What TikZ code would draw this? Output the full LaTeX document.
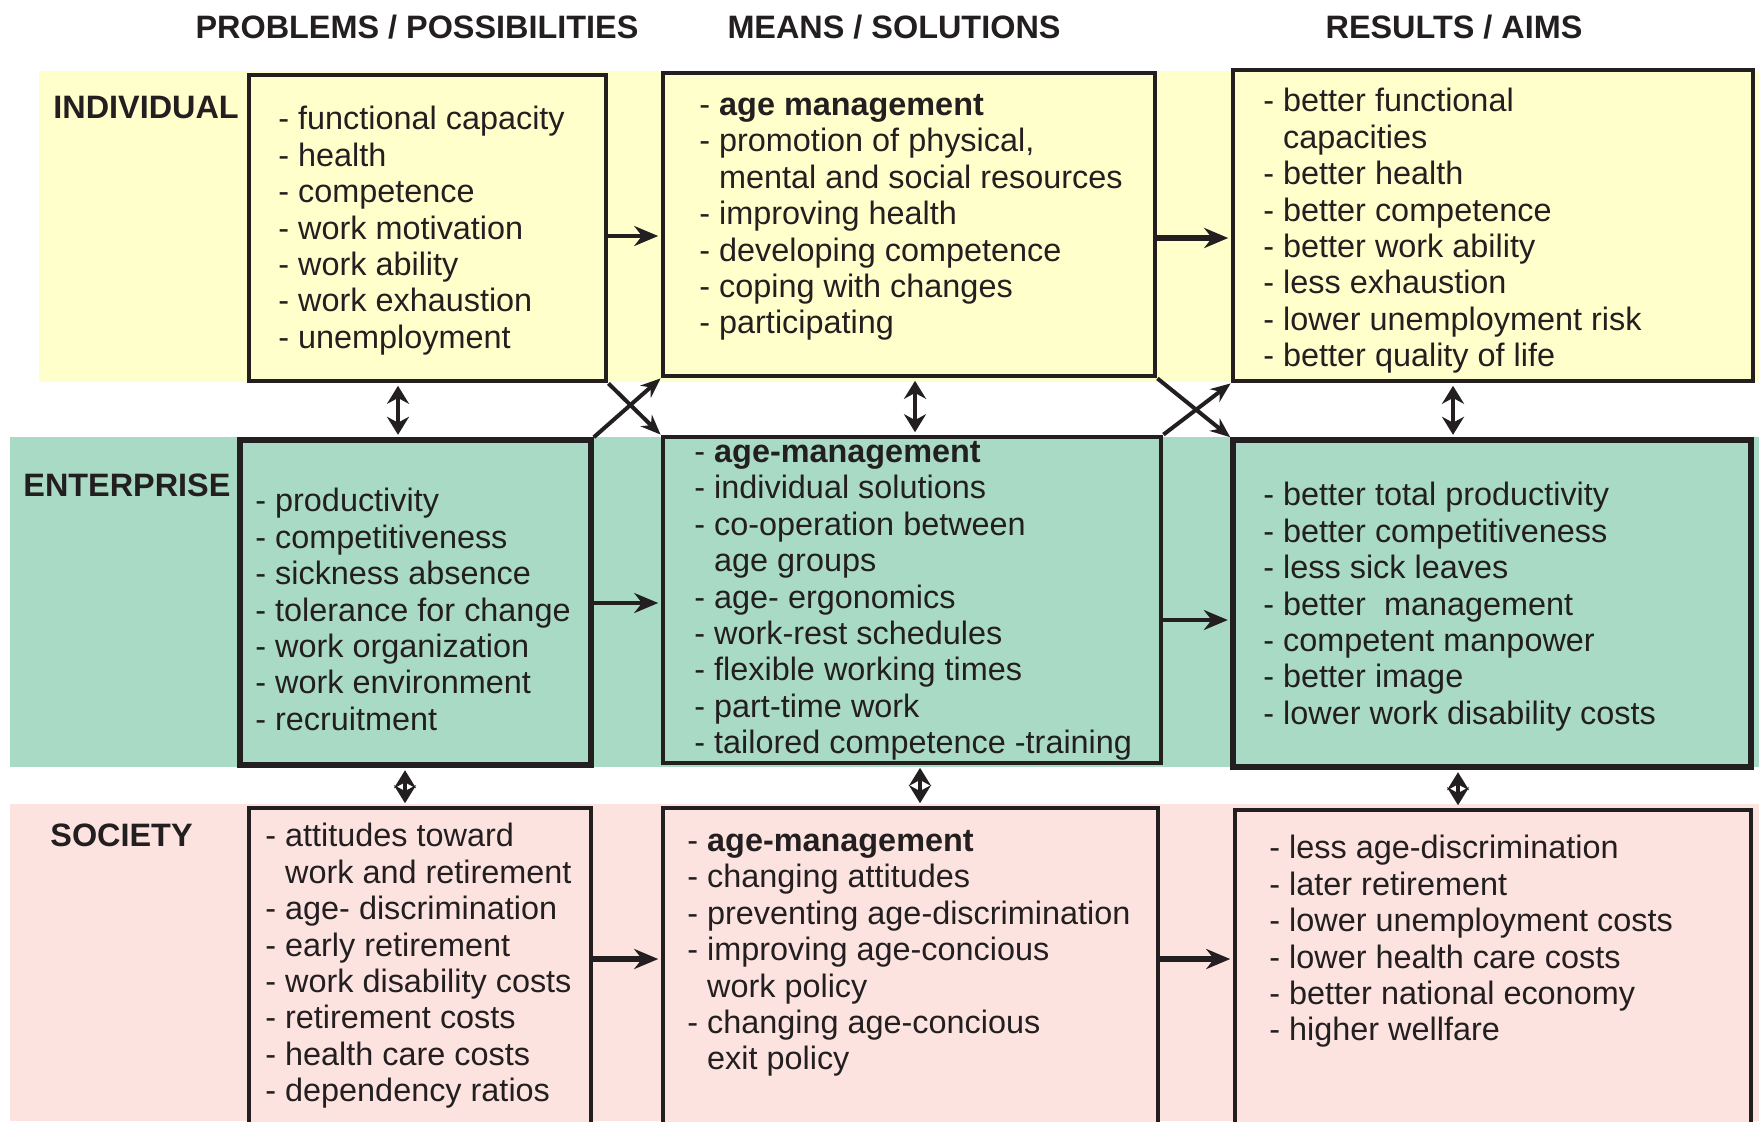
\documentclass[tikz,border=0pt]{standalone}
\usepackage{fontspec}
\setmainfont{Liberation Sans}
\usetikzlibrary{fit,arrows.meta}

\definecolor{indiv}{HTML}{FFFFCC}
\definecolor{enter}{HTML}{A9DAC6}
\definecolor{socie}{HTML}{FCE3DF}
\definecolor{ink}{HTML}{231F20}

\newcommand\more{\phantom{- }}

\tikzset{
  box/.style={draw=ink, line width=2.4pt, inner sep=0pt},
  items/.style={anchor=north west, align=left, inner sep=0pt, text=ink,
    font=\fontsize{16.2}{18.2}\selectfont},
  head/.style={text=ink, inner sep=0pt, font=\fontsize{16.2}{18.2}\selectfont\bfseries},
  rowname/.style={head, anchor=west},
  flow/.style={draw=ink, line width=1.7pt, shorten >=1.2pt,
    -{Stealth[length=12pt,width=10pt]}},
  bigflow/.style={flow, line width=3pt},
  link/.style={draw=ink, line width=2.2pt, shorten >=1.2pt, shorten <=1.2pt,
    {Stealth[length=9pt,width=11pt]}-{Stealth[length=9pt,width=11pt]}},
  cross/.style={draw=ink, line width=2pt, -{Stealth[length=10pt,width=8pt]}},
}

\begin{document}
\begin{tikzpicture}[x=0.5pt, y=-0.5pt]
\useasboundingbox (0,0) rectangle (1759,1121);
\clip (0,0) rectangle (1759,1121);

% row bands
\fill[indiv] (39,71) rectangle (1759,382);
\fill[enter] (10,437) rectangle (1759,767);
\fill[socie] (10,804) rectangle (1759,1121);

% column heads
\node[head] (hprob) at (417,27) {PROBLEMS / POSSIBILITIES};
\node[head] (hmean) at (894,27) {MEANS / SOLUTIONS};
\node[head] (hres)  at (1454,27) {RESULTS / AIMS};

% row names
\node[rowname] (lind) at (53,108) {INDIVIDUAL};
\node[rowname] (lent) at (23,485) {ENTERPRISE};
\node[rowname] (lsoc) at (50,835) {SOCIETY};

% individual
\node[box, fill=indiv, fit={(249,75) (606,381)}] (a1) {};
\node[box, fill=indiv, fit={(663,73) (1155,376)}] (b1) {};
\node[box, fill=indiv, fit={(1233,70) (1753,381)}] (c1) {};

\node[items] (a1t) at (278,106) {- functional capacity\\- health\\- competence\\- work motivation\\- work ability\\- work exhaustion\\- unemployment};
\node[items] (b1t) at (699,94) {- \textbf{age management}\\- promotion of physical,\\\more mental and social resources\\- improving health\\- developing competence\\- coping with changes\\- participating};
\node[items] (c1t) at (1263,88) {- better functional\\\more capacities\\- better health\\- better competence\\- better work ability\\- less exhaustion\\- lower unemployment risk\\- better quality of life};

% enterprise
\node[box, fill=enter, line width=2.8pt, fit={(240,440) (591,765)}] (a2) {};
\node[box, fill=enter, fit={(663,437) (1161,763)}] (b2) {};
\node[box, fill=enter, line width=2.8pt, fit={(1233,440) (1751,767)}] (c2) {};

\node[items] (a2t) at (255,488) {- productivity\\- competitiveness\\- sickness absence\\- tolerance for change\\- work organization\\- work environment\\- recruitment};
\node[items] (b2t) at (694,441) {- \textbf{age-management}\\- individual solutions\\- co-operation between\\\more age groups\\- age- ergonomics\\- work-rest schedules\\- flexible working times\\- part-time work\\- tailored competence -training};
\node[items] (c2t) at (1263,482) {- better total productivity\\- better competitiveness\\- less sick leaves\\- better~ management\\- competent manpower\\- better image\\- lower work disability costs};

% society
\node[box, fill=socie, fit={(249,808) (591,1140)}] (a3) {};
\node[box, fill=socie, fit={(663,808) (1158,1140)}] (b3) {};
\node[box, fill=socie, fit={(1235,810) (1751,1140)}] (c3) {};

\node[items] (a3t) at (265,823) {- attitudes toward\\\more work and retirement\\- age- discrimination\\- early retirement\\- work disability costs\\- retirement costs\\- health care costs\\- dependency ratios};
\node[items] (b3t) at (687,830) {- \textbf{age-management}\\- changing attitudes\\- preventing age-discrimination\\- improving age-concious\\\more work policy\\- changing age-concious\\\more exit policy};
\node[items] (c3t) at (1269,835) {- less age-discrimination\\- later retirement\\- lower unemployment costs\\- lower health care costs\\- better national economy\\- higher wellfare};

% flows along the rows
\draw[flow]    (a1.east |- 0,236) -- (b1.west |- 0,236);
\draw[bigflow] (b1.east |- 0,238) -- (c1.west |- 0,238);
\draw[flow]    (a2.east |- 0,603) -- (b2.west |- 0,603);
\draw[flow]    (b2.east |- 0,620) -- (c2.west |- 0,620);
\draw[bigflow] (a3.east |- 0,959) -- (b3.west |- 0,959);
\draw[bigflow] (b3.east |- 0,959) -- (c3.west |- 0,959);

% links between the rows
\draw[link] (a1.south -| 398,0) -- (a2.north -| 398,0);
\draw[link] (b1.south -| 915,0) -- (b2.north -| 915,0);
\draw[link] (c1.south -| 1453,0) -- (c2.north -| 1453,0);
\draw[link] (a2.south -| 405,0) -- (a3.north -| 405,0);
\draw[link] (b2.south -| 920,0) -- (b3.north -| 920,0);
\draw[link] (c2.south -| 1458,0) -- (c3.north -| 1458,0);

% crossing flows
\draw[cross] (a1.south east) -- (b2.north west);
\draw[cross] (a2.north east) -- (b1.south west);
\draw[cross] (b1.south east) -- (c2.north west);
\draw[cross] (b2.north east) -- (c1.south west);
\end{tikzpicture}
\end{document}
